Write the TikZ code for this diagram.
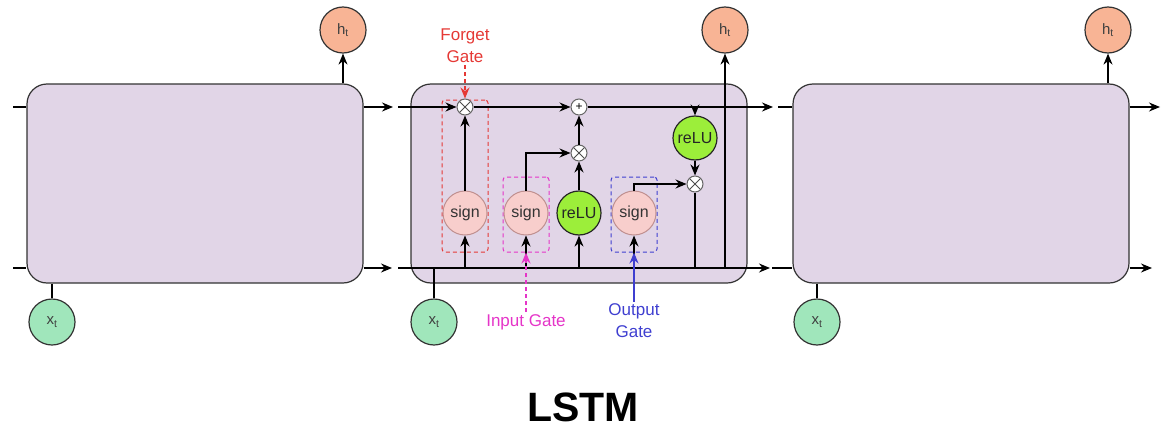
\documentclass[tikz,border=0pt]{standalone}
\usepackage{fontspec}
\setmainfont{Liberation Sans}
\usetikzlibrary{arrows.meta,positioning,calc}
\definecolor{cellfill}{HTML}{E1D5E7}
\definecolor{signfill}{HTML}{F8CECC}
\definecolor{signline}{HTML}{C09090}
\definecolor{relufill}{HTML}{9CEE3A}
\definecolor{hfill}{HTML}{F8B495}
\definecolor{xfill}{HTML}{A0E6BB}
\definecolor{fgred}{HTML}{E53935}
\definecolor{igpink}{HTML}{E535C8}
\definecolor{ogblue}{HTML}{3F3FD0}

\begin{document}
\begin{tikzpicture}[
  x=1pt, y=-1pt,
  font=\fontsize{16}{19}\selectfont,
  cell/.style={draw=black!80, fill=cellfill, rounded corners=20pt,
    minimum width=336pt, minimum height=199pt, line width=1.2pt},
  gbox/.style={draw, dash pattern=on 4pt off 3pt, rounded corners=3pt,
    line width=1pt, minimum width=46pt, inner sep=0pt},
  sgn/.style={circle, draw=signline, fill=signfill, minimum size=44pt,
    inner sep=0pt, line width=1pt, text=black!80},
  relu/.style={circle, draw=black!85, fill=relufill, minimum size=44pt,
    inner sep=0pt, line width=1.2pt, text=black!85},
  op/.style={circle, draw=black!60, fill=white, minimum size=16pt,
    inner sep=0pt, line width=1pt},
  mul/.style={op, path picture={\draw[black!70, line width=0.9pt]
    (path picture bounding box.north west) -- (path picture bounding box.south east)
    (path picture bounding box.north east) -- (path picture bounding box.south west);}},
  hnode/.style={circle, draw=black!80, fill=hfill, minimum size=46pt,
    inner sep=0pt, line width=1.2pt, text=black!75, font=\fontsize{15}{17}\selectfont},
  xnode/.style={circle, draw=black!80, fill=xfill, minimum size=46pt,
    inner sep=0pt, line width=1.2pt, text=black!75, font=\fontsize{15}{17}\selectfont},
  lab/.style={align=center, font=\fontsize{17}{22}\selectfont, inner sep=2pt},
  arr/.style={-{Stealth[length=11pt, width=9pt]}, line width=1.4pt},
  ln/.style={line width=1.4pt}
]
\useasboundingbox (0,0) rectangle (1166,428);

% ── Cell t-1 ─────────────────────────────────────────────────────────────
\node[cell] (cellA) at (195,183.5) {};
\node[hnode] (hA) at (343,30) {h\textsubscript{t}};
\node[xnode] (xA) at (52,322) {x\textsubscript{t}};
\coordinate (aTin) at (13,107);
\coordinate (aBin) at (13,268);
\coordinate (aTout) at (393,107);
\coordinate (aBout) at (392,268);
\draw[ln] (aTin) -- (cellA.west |- aTin);
\draw[ln] (aBin) -- (cellA.west |- aBin);
\draw[arr] (cellA.east |- aTin) -- (aTout);
\draw[arr] (cellA.east |- aBin) -- (aBout);
\draw[arr] (cellA.north -| hA) -- (hA);
\draw[ln] (cellA.south -| xA) -- (xA);

% ── Cell t (opened up) ───────────────────────────────────────────────────
\node[cell] (cellB) at (579,183.5) {};
\node[gbox, draw=fgred, minimum height=152pt] (fgBox) at (465,176) {};
\node[gbox, draw=igpink, minimum height=75pt] (igBox) at (526,214.5) {};
\node[gbox, draw=ogblue, minimum height=75pt] (ogBox) at (634,214.5) {};

\coordinate (bTin) at (398,107);
\coordinate (bBin) at (398,268);
\coordinate (bTout) at (773,107);
\coordinate (bBout) at (770,268);
\coordinate (tap) at (627,107);
\coordinate (bJoin) at (725,268);

\node[sgn] (sF) at (465,213) {sign};
\node[sgn] (sI) at (526,213) {sign};
\node[relu] (rI) at (579,213) {reLU};
\node[sgn] (sO) at (634,213) {sign};
\node[relu] (reluT) at (695,138) {reLU};
\node[mul] (fx) at (465,107) {};
\node[op, font=\fontsize{12}{12}\selectfont] (plus) at (579,107) {+};
\node[mul] (ix) at (579,153) {};
\node[mul] (ox) at (695,184) {};
\node[hnode] (hB) at (725,30) {h\textsubscript{t}};
\node[xnode] (xB) at (434,322) {x\textsubscript{t}};

% cell state and hidden state
\draw[arr] (bTin) -- (fx);
\draw[arr] (fx) -- (plus);
\draw[arr] (plus) -- (bTout);
\draw[arr] (tap) -| (reluT);
\draw[arr] (reluT) -- (ox);
\draw[ln] (ox) |- (bJoin);
\draw[arr] (bJoin) -- (hB);
\draw[arr] (bBin) -- (bBout);
\draw[ln] (xB) -- (xB |- bBin);

% gates
\foreach \g in {sF,sI,rI,sO}
  \draw[arr] (\g |- bBin) -- (\g);
\draw[arr] (sF) -- (fx);
\draw[arr] (sI) |- (ix);
\draw[arr] (rI) -- (ix);
\draw[arr] (ix) -- (plus);
\draw[arr] (sO) |- (ox);

% gate labels
\node[lab, text=fgred] (fgLab) at (465,46) {Forget\\Gate};
\draw[arr, fgred, line width=1.2pt, dash pattern=on 4pt off 3pt] (fgLab) -- (fx);
\node[lab, text=igpink] (igLab) at (526,322) {Input Gate};
\draw[arr, igpink, line width=1.2pt, dash pattern=on 4pt off 3pt] (igLab) -- (igBox);
\node[lab, text=ogblue] (ogLab) at (634,321) {Output\\Gate};
\draw[arr, ogblue, line width=1.2pt] (ogLab) -- (ogBox);

% ── Cell t+1 ─────────────────────────────────────────────────────────────
\node[cell] (cellC) at (961,183.5) {};
\node[hnode] (hC) at (1108,30) {h\textsubscript{t}};
\node[xnode] (xC) at (817,322) {x\textsubscript{t}};
\coordinate (cTin) at (778,107);
\coordinate (cBin) at (772,268);
\coordinate (cTout) at (1160,107);
\coordinate (cBout) at (1152,268);
\draw[ln] (cTin) -- (cellC.west |- cTin);
\draw[ln] (cBin) -- (cellC.west |- cBin);
\draw[arr] (cellC.east |- cTin) -- (cTout);
\draw[arr] (cellC.east |- cBin) -- (cBout);
\draw[arr] (cellC.north -| hC) -- (hC);
\draw[ln] (cellC.south -| xC) -- (xC);

% ── Title ────────────────────────────────────────────────────────────────
\node[font=\fontsize{41}{48}\selectfont\bfseries] (title) at (583,407) {LSTM};

\end{tikzpicture}
\end{document}
